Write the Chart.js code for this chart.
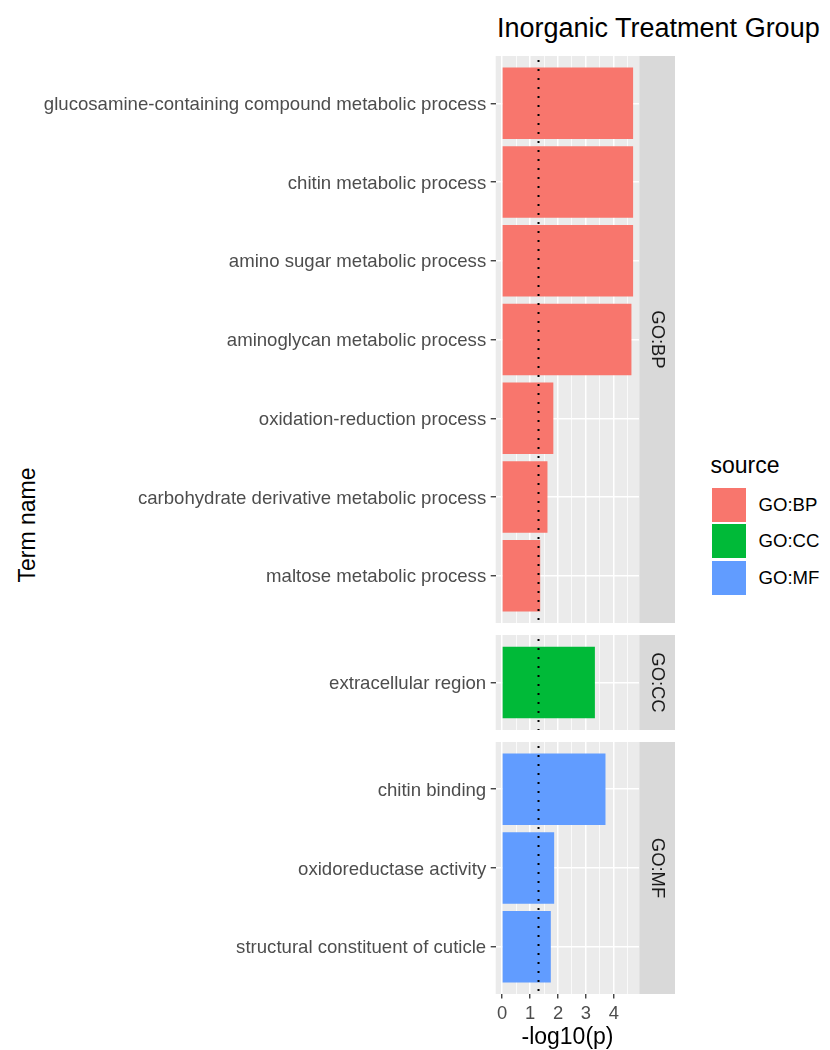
<!DOCTYPE html>
<html>
<head>
<meta charset="utf-8">
<script src="https://cdn.jsdelivr.net/npm/chart.js@4/dist/chart.umd.min.js"></script>
<style>
  html, body { margin: 0; padding: 0; background: #ffffff; }
  body { width: 830px; height: 1050px; position: relative; overflow: hidden;
         font-family: "Liberation Sans", Arial, Helvetica, sans-serif; }
  canvas { position: absolute; left: 0; }
  .plot-title { position: absolute; left: 497px; top: 15px; font-size: 27px; line-height: 27px;
                color: #000; white-space: nowrap; }
  .y-title { position: absolute; width: 300px; height: 26px; line-height: 26px; text-align: center;
             font-size: 23px; color: #000; transform: rotate(-90deg); white-space: nowrap; }
  .legend-title { position: absolute; font-size: 23px; line-height: 23px; color: #000; }
  .legend-key { position: absolute; width: 34px; height: 34px; }
  .legend-label { position: absolute; font-size: 18.6px; line-height: 20px; color: #000; white-space: nowrap; }
</style>
</head>
<body>
<div class="plot-title">Inorganic Treatment Group</div>
<div class="y-title" id="yTitle">Term name</div>
<script>
// ---- data: GO terms grouped by source, value = -log10(p) ----
const bpTerms = [
  'glucosamine-containing compound metabolic process',
  'chitin metabolic process',
  'amino sugar metabolic process',
  'aminoglycan metabolic process',
  'oxidation-reduction process',
  'carbohydrate derivative metabolic process',
  'maltose metabolic process'
];
const bpValues = [4.68, 4.68, 4.68, 4.62, 1.82, 1.61, 1.35];

const ccTerms = ['extracellular region'];
const ccValues = [3.31];

const mfTerms = ['chitin binding', 'oxidoreductase activity', 'structural constituent of cuticle'];
const mfValues = [3.69, 1.85, 1.73];

const sources = ['GO:BP', 'GO:CC', 'GO:MF'];
const xMajorTicks = [0, 1, 2, 3, 4];
const xMinorTicks = [0.5, 1.5, 2.5, 3.5, 4.5];
const significanceLine = -Math.log10(0.05);   // p = 0.05

// ---- styling ----
const palette = { 'GO:BP': '#F8766D', 'GO:CC': '#00BA38', 'GO:MF': '#619CFF' };
const FONT = '"Liberation Sans", Arial, Helvetica, sans-serif';
Chart.defaults.font.family = FONT;

// ---- layout ----
const PLOT_LEFT = 495.7;     // left edge of the panels
const PLOT_RIGHT = 639.3;    // right edge of the panels
const STRIP_W = 35.7;        // facet strip width
const CANVAS_W = 680;
const UNIT = 78.75;          // px per category slot
const PANEL_GAP = 12;
const FIRST_TOP = 56;
const AXIS_H = 57;           // x axis area under the last panel

const allValues = bpValues.concat(ccValues, mfValues);
const dataMax = Math.max(...allValues);
const xLo = -0.05 * dataMax;
const xHi = 1.05 * dataMax;

// background of each panel
const panelBackground = {
  id: 'panelBackground',
  beforeDraw(chart) {
    const { ctx, chartArea: a } = chart;
    ctx.save();
    ctx.fillStyle = '#EBEBEB';
    ctx.fillRect(a.left, a.top, a.right - a.left, a.bottom - a.top);
    ctx.restore();
  }
};

// dotted significance threshold
const thresholdLine = {
  id: 'thresholdLine',
  afterDatasetsDraw(chart) {
    const { ctx, chartArea: a, scales } = chart;
    const x = scales.x.getPixelForValue(significanceLine);
    ctx.save();
    ctx.strokeStyle = '#000';
    ctx.lineWidth = 2;
    ctx.setLineDash([2, 7]);
    ctx.beginPath();
    ctx.moveTo(x, a.top + 4);
    ctx.lineTo(x, a.bottom);
    ctx.stroke();
    ctx.restore();
  }
};

// facet strip at the right of each panel
const facetStrip = {
  id: 'facetStrip',
  afterDraw(chart, args, opts) {
    const { ctx, chartArea: a } = chart;
    ctx.save();
    ctx.fillStyle = '#D9D9D9';
    ctx.fillRect(a.right, a.top, STRIP_W, a.bottom - a.top);
    ctx.translate(a.right + STRIP_W / 2, (a.top + a.bottom) / 2);
    ctx.rotate(Math.PI / 2);
    ctx.fillStyle = '#1A1A1A';
    ctx.font = '18.4px ' + FONT;
    ctx.textAlign = 'center';
    ctx.textBaseline = 'middle';
    ctx.fillText(opts.label, 0, 0);
    ctx.restore();
  }
};

const isMajor = v => xMajorTicks.includes(v);

function makePanel(terms, values, source, panelTop, isBottom) {
  const n = terms.length;
  const panelH = (n + 0.2) * UNIT;
  const canvasH = Math.round(panelH + (isBottom ? AXIS_H : 0));
  const canvas = document.createElement('canvas');
  canvas.width = CANVAS_W;
  canvas.height = canvasH;
  canvas.style.width = CANVAS_W + 'px';
  canvas.style.height = canvasH + 'px';
  canvas.style.top = Math.round(panelTop) + 'px';
  document.body.appendChild(canvas);

  new Chart(canvas, {
    type: 'bar',
    data: {
      datasets: [{
        label: source,
        data: values.map((v, i) => ({ x: v, y: i })),
        backgroundColor: palette[source],
        borderWidth: 0,
        barThickness: 0.9 * UNIT
      }]
    },
    options: {
      indexAxis: 'y',
      responsive: false,
      animation: false,
      devicePixelRatio: 1,
      layout: { padding: { left: 0, right: CANVAS_W - PLOT_RIGHT, top: 0, bottom: 0 } },
      plugins: {
        legend: { display: false },
        tooltip: { enabled: false },
        facetStrip: { label: source }
      },
      scales: {
        x: {
          type: 'linear',
          position: 'bottom',
          offset: false,
          min: xLo,
          max: xHi,
          afterBuildTicks(scale) {
            scale.ticks = xMajorTicks.concat(xMinorTicks).sort((a, b) => a - b).map(v => ({ value: v }));
          },
          afterFit(scale) {
            scale.height = isBottom ? AXIS_H : 0;
            scale.paddingLeft = 0;
            scale.paddingRight = 0;
          },
          border: { display: false },
          grid: {
            offset: false,
            color: '#FFFFFF',
            lineWidth: ctx => (ctx.tick && isMajor(ctx.tick.value)) ? 1.5 : 0.75,
            drawTicks: isBottom,
            tickLength: 4.5,
            tickWidth: 1.3,
            tickColor: ctx => (ctx.tick && isMajor(ctx.tick.value)) ? '#333333' : 'rgba(0,0,0,0)'
          },
          ticks: {
            display: isBottom,
            autoSkip: false,
            maxRotation: 0,
            padding: 4,
            color: '#4D4D4D',
            font: { size: 18.4 },
            callback: v => isMajor(v) ? String(v) : ''
          },
          title: {
            display: isBottom,
            text: '-log10(p)',
            color: '#000000',
            font: { size: 23 },
            padding: { top: 0, bottom: 0 }
          }
        },
        y: {
          type: 'linear',
          reverse: true,
          offset: false,
          min: -0.6,
          max: n - 0.4,
          afterBuildTicks(scale) {
            scale.ticks = terms.map((t, i) => ({ value: i }));
          },
          afterFit(scale) {
            scale.width = PLOT_LEFT;
            scale.paddingTop = 0;
            scale.paddingBottom = 0;
          },
          border: { display: false },
          grid: {
            offset: false,
            color: '#FFFFFF',
            lineWidth: 1.5,
            drawTicks: true,
            tickLength: 5,
            tickWidth: 1.3,
            tickColor: '#333333'
          },
          ticks: {
            autoSkip: false,
            padding: 4.5,
            labelOffset: 1.5,
            color: '#4D4D4D',
            font: { size: 18.6 },
            callback: v => terms[v]
          }
        }
      }
    },
    plugins: [panelBackground, thresholdLine, facetStrip]
  });
  return panelTop + panelH + PANEL_GAP;
}

const groups = [
  { terms: bpTerms, values: bpValues, source: 'GO:BP' },
  { terms: ccTerms, values: ccValues, source: 'GO:CC' },
  { terms: mfTerms, values: mfValues, source: 'GO:MF' }
];
let nextTop = FIRST_TOP;
let panelsBottom = nextTop;
groups.forEach((g, i) => {
  const isBottom = i === groups.length - 1;
  const next = makePanel(g.terms, g.values, g.source, nextTop, isBottom);
  panelsBottom = next - PANEL_GAP;
  nextTop = next;
});

// y axis title centred on the stack of panels
const yTitle = document.getElementById('yTitle');
const yMid = (FIRST_TOP + panelsBottom) / 2;
yTitle.style.left = (27 - 150) + 'px';
yTitle.style.top = (yMid - 13) + 'px';

// legend
const LEG_X = 711.5;
const legTitle = document.createElement('div');
legTitle.className = 'legend-title';
legTitle.textContent = 'source';
legTitle.style.left = (LEG_X - 1) + 'px';
legTitle.style.top = '454px';
document.body.appendChild(legTitle);
sources.forEach((s, i) => {
  const keyTop = 487.5 + i * 36.5;
  const key = document.createElement('div');
  key.className = 'legend-key';
  key.style.left = LEG_X + 'px';
  key.style.top = keyTop + 'px';
  key.style.background = palette[s];
  document.body.appendChild(key);
  const lab = document.createElement('div');
  lab.className = 'legend-label';
  lab.textContent = s;
  lab.style.left = (LEG_X + 47) + 'px';
  lab.style.top = (keyTop + 7) + 'px';
  document.body.appendChild(lab);
});
</script>
</body>
</html>
